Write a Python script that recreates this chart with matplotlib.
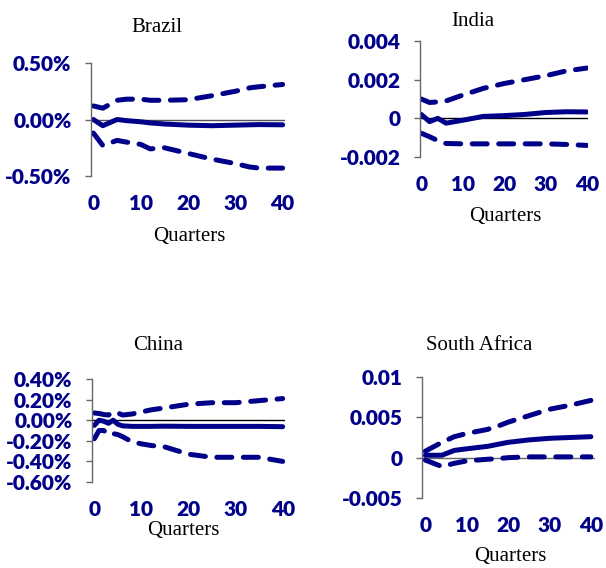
import matplotlib.pyplot as plt
import matplotlib.ticker as mticker

NAVY = "#000088"

# impulse responses read at selected quarters: (quarters, lower band, response, upper band)
brazil_q = [0, 2, 5, 7, 10, 12, 15, 20, 25, 30, 33, 35, 40]
brazil_mid = [0.0, -0.055, 0.0, -0.01, -0.02, -0.03, -0.04, -0.05, -0.055, -0.05, -0.047, -0.045, -0.047]
brazil_up = [0.12, 0.10, 0.17, 0.18, 0.18, 0.17, 0.17, 0.175, 0.21, 0.25, 0.28, 0.29, 0.31]
brazil_lo = [-0.12, -0.23, -0.185, -0.20, -0.22, -0.26, -0.25, -0.30, -0.35, -0.39, -0.42, -0.43, -0.43]

india_q = [0, 2, 4, 6, 10, 15, 20, 25, 30, 35, 40]
india_mid = [0.0002, -0.00017, 0.0, -0.00025, -0.0001, 0.0001, 0.00014, 0.0002, 0.0003, 0.00034, 0.00033]
india_up = [0.001, 0.00082, 0.00085, 0.0009, 0.0012, 0.00155, 0.0018, 0.002, 0.0022, 0.00245, 0.0026]
india_lo = [-0.00077, -0.00095, -0.00115, -0.0013, -0.00132, -0.00132, -0.00132, -0.00132, -0.00132, -0.00135, -0.0014]

china_q = [0, 1, 2, 3, 4, 5, 6, 8, 10, 12, 15, 20, 25, 30, 35, 40]
china_mid = [-0.05, 0.0, -0.01, -0.03, 0.0, -0.04, -0.055, -0.06, -0.06, -0.06, -0.058, -0.06, -0.06, -0.06, -0.06, -0.063]
china_up = [0.07, 0.065, 0.055, 0.05, 0.08, 0.07, 0.05, 0.06, 0.08, 0.10, 0.12, 0.155, 0.17, 0.17, 0.19, 0.21]
china_lo = [-0.18, -0.10, -0.10, -0.14, -0.13, -0.14, -0.16, -0.21, -0.23, -0.245, -0.26, -0.33, -0.36, -0.36, -0.36, -0.40]

safrica_q = [0, 4, 7, 10, 15, 18, 20, 25, 30, 35, 40]
safrica_mid = [0.0003, 0.0003, 0.0009, 0.0011, 0.0014, 0.0017, 0.0019, 0.0022, 0.0024, 0.0025, 0.0026]
safrica_up = [0.0008, 0.0019, 0.0026, 0.003, 0.0035, 0.004, 0.0044, 0.0052, 0.006, 0.0065, 0.0071]
safrica_lo = [-0.0003, -0.0011, -0.0007, -0.0004, -0.0002, -0.0001, 0.0, 0.0001, 0.0001, 0.0001, 0.0001]

x_ticks = [0, 10, 20, 30, 40]

W, H = 606, 568
fig = plt.figure(figsize=(W / 100, H / 100), dpi=100)


def px_axes(left, top, right, bottom):
    return fig.add_axes([left / W, 1 - bottom / H, (right - left) / W, (bottom - top) / H])


def panel(ax, q, lo, mid, up, ylim, yticks, fmt, xlim, zero_color):
    ax.axhline(0, color=zero_color, lw=1.0, zorder=1)
    dash = dict(color=NAVY, lw=3.6, dashes=(3.0, 2.3), dash_capstyle="round")
    ax.plot(q, up, **dash)
    ax.plot(q, lo, **dash)
    ax.plot(q, mid, color=NAVY, lw=3.6, solid_capstyle="round")
    ax.set_xlim(*xlim)
    ax.set_ylim(*ylim)
    ax.set_yticks(yticks)
    ax.yaxis.set_major_formatter(fmt)
    ax.set_xticks(x_ticks)
    for s in ["top", "right", "bottom"]:
        ax.spines[s].set_visible(False)
    ax.spines["left"].set_color("#666666")
    ax.spines["left"].set_linewidth(1.0)
    ax.tick_params(axis="y", direction="out", length=4, width=1.0, color="#666666", pad=10)
    ax.tick_params(axis="x", length=0, pad=13)
    for lab in ax.get_xticklabels() + ax.get_yticklabels():
        lab.set_fontfamily("Lato")
        lab.set_fontweight("heavy")
        lab.set_fontsize(15)
        lab.set_color(NAVY)
    ax.patch.set_alpha(0)


def label(x, y, s):
    fig.text(x / W, 1 - y / H, s, ha="center", va="center",
             fontfamily="Liberation Serif", fontsize=15, color="black")


pct = mticker.FuncFormatter(lambda v, p: "%.2f%%" % v)

ax1 = px_axes(91, 63, 285, 176)
panel(ax1, brazil_q, brazil_lo, brazil_mid, brazil_up, (-0.5, 0.5), [-0.5, 0, 0.5], pct, (-0.5, 40.5), "#555555")
ax2 = px_axes(420, 41, 588, 157)
panel(ax2, india_q, india_lo, india_mid, india_up, (-0.002, 0.004), [-0.002, 0, 0.002, 0.004],
      mticker.FuncFormatter(lambda v, p: "0" if v == 0 else "%.3f" % v), (-0.3, 40.3), "black")
ax3 = px_axes(92, 379, 285, 482)
panel(ax3, china_q, china_lo, china_mid, china_up, (-0.6, 0.4), [-0.6, -0.4, -0.2, 0, 0.2, 0.4], pct, (-0.5, 40.5), "black")
ax4 = px_axes(422, 377, 595, 498)
panel(ax4, safrica_q, safrica_lo, safrica_mid, safrica_up, (-0.005, 0.01), [-0.005, 0, 0.005, 0.01],
      mticker.FuncFormatter(lambda v, p: "0" if v == 0 else ("%.3f" % v).rstrip("0")), (-0.8, 41), "#666666")

label(157, 28, "Brazil")
label(473, 22, "India")
label(158, 345, "China")
label(479, 346, "South Africa")
label(189, 236, "Quarters")
label(505, 217, "Quarters")
label(183, 531, "Quarters")
label(510, 557, "Quarters")

fig.savefig("out.png", dpi=100)
